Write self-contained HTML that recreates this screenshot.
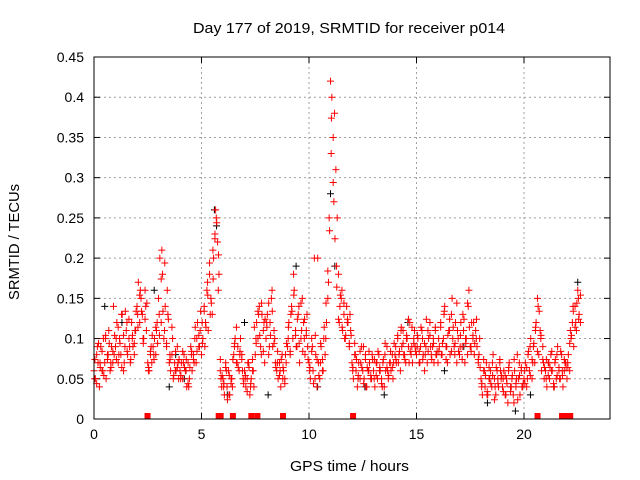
<!DOCTYPE html>
<html><head><meta charset="utf-8"><style>
body{margin:0;background:#fff;}
svg{display:block;font-family:"Liberation Sans",sans-serif;}
</style></head><body>
<svg id="chart" width="640" height="480"></svg>
<script>
const xTicks=[0,5,10,15,20];
const yTicks=[0,0.05,0.1,0.15,0.2,0.25,0.3,0.35,0.4,0.45];
const yTickLabels=["0","0.05","0.1","0.15","0.2","0.25","0.3","0.35","0.4","0.45"];
const redA=[.06,.05,.08,.07,.04,.09,.06,.1,.07,.05,.08,.11,.06,.09,.07,.08,
.09,.12,.07,.1,.08,.13,.06,.09,.11,.08,.1,.07,.12,.09,.08,.11,
.14,.17,.12,.15,.13,.1,.16,.11,.07,.06,.08,.07,.09,.1,.08,.12,
.15,.2,.12,.18,.1,.14,.09,.13,.07,.06,.08,.05,.07,.06,.09,.05,
.06,.07,.05,.08,.06,.04,.07,.05,.09,.06,.08,.1,.07,.12,.09,.11,
.08,.1,.14,.12,.16,.11,.18,.15,.13,.2,.23,.25,.22,.18,.06,.04,
.05,.03,.07,.04,.06,.03,.05,.04,.08,.1,.07,.09,.06,.1,.08,.05,
.06,.04,.05,.07,.03,.05,.06,.04,.08,.12,.1,.14,.09,.13,.11,.07,
.1,.13,.08,.12,.15,.09,.11,.07,.06,.05,.07,.04,.08,.06,.05,.07,
.09,.12,.08,.14,.1,.16,.11,.09,.13,.07,.1,.15,.12,.08,.11,.09,
.07,.05,.1,.06,.2,.08,.04,.07,.05,.09,.06,.1,.08,.12,.15,.25,
.42,.4,.35,.38,.31,.25,.18,.14,.15,.11,.13,.1,.14,.12,.09,.11,
.07,.05,.08,.06,.04,.07,.05,.09,.06,.05,.08,.04,.06,.07,.05,.08,
.06,.04,.07,.05,.08,.06,.05,.07,.04,.06,.09,.05,.07,.06,.08,.07,
.08,.07,.1,.08,.06,.09,.11,.08,.07,.1,.09,.12,.08,.07,.1,.09,
.08,.1,.07,.09,.11,.08,.06,.09,.07,.1,.12,.08,.09,.07,.11,.08,
.07,.09,.12,.08,.1,.14,.09,.07,.11,.08,.13,.1,.09,.12,.07,.1,
.08,.12,.09,.11,.07,.1,.08,.16,.09,.12,.1,.08,.11,.09,.07,.1,
.05,.03,.06,.04,.07,.03,.05,.06,.04,.08,.05,.03,.06,.04,.07,.05,
.04,.06,.03,.05,.02,.07,.04,.05,.03,.06,.04,.08,.05,.03,.06,.04,
.05,.07,.04,.08,.06,.1,.05,.09,.07,.12,.15,.08,.11,.06,.09,.05,
.06,.04,.07,.05,.08,.06,.04,.07,.05,.09,.06,.05,.08,.04,.06,.07,
.05,.08,.06,.1,.12,.09,.14,.11,.16,.13,.12];
const redB=[.05,.09,.07,.06,.1,.08,.07,.14,
.1,.08,.13,.07,.12,.09,.1,.11,
.13,.16,.1,.14,.06,.09,.08,.11,
.13,.21,.11,.16,.08,.1,.06,.07,
.05,.07,.06,.04,.08,.07,.1,.09,
.12,.09,.17,.13,.21,.26,.16,.05,
.04,.06,.03,.05,.09,.07,.08,.06,
.05,.07,.04,.06,.1,.13,.08,.12,
.12,.09,.16,.1,.07,.06,.05,.08,
.1,.13,.18,.09,.14,.11,.1,.13,
.06,.09,.05,.2,.07,.06,.1,.17,
.33,.27,.19,.12,.16,.1,.12,.13,
.06,.08,.05,.07,.09,.04,.06,.05,
.05,.07,.06,.04,.08,.06,.07,.05,
.09,.07,.11,.08,.1,.07,.09,.11,
.09,.07,.1,.08,.11,.09,.1,.08,
.1,.08,.13,.09,.11,.15,.08,.11,
.09,.13,.1,.14,.09,.12,.1,.08,
.04,.06,.03,.05,.07,.04,.05,.06,
.05,.03,.06,.04,.02,.05,.07,.04,
.06,.05,.09,.07,.11,.14,.1,.07,
.05,.07,.06,.04,.08,.05,.06,.07,
.07,.11,.14,.12,.15];
const redC=[.07,.04,.09,.06,.08,.05,.1,.07,.09,.06,.08,.1,
.07,.11,.09,.06,.1,.13,.08,.12,.07,.1,.09,.13,
.11,.15,.13,.09,.12,.14,.06,.08,.1,.07,.11,.09,
.1,.17,.13,.19,.09,.12,.07,.11,.05,.08,.06,.07,
.05,.08,.06,.07,.04,.06,.08,.07,.11,.08,.1,.13,
.09,.13,.11,.15,.19,.14,.17,.22,.24,.2,.07,.05,
.04,.06,.02,.05,.04,.07,.09,.11,.06,.08,.07,.04,
.05,.03,.06,.04,.07,.11,.09,.13,.1,.14,.08,.12,
.11,.14,.1,.13,.09,.06,.08,.05,.07,.06,.04,.09,
.11,.08,.13,.15,.1,.12,.09,.14,.08,.12,.1,.07,
.06,.08,.04,.1,.07,.05,.09,.07,.11,.14,.18,.23,
.37,.29,.22,.16,.12,.15,.11,.14,.1,.12,.09,.1,
.06,.09,.07,.05,.08,.06,.04,.07,.06,.08,.05,.07,
.07,.05,.08,.06,.04,.07,.09,.06,.05,.08,.06,.09,
.07,.1,.08,.11,.09,.07,.1,.12,.08,.11,.09,.08,
.1,.08,.11,.07,.09,.12,.08,.1,.07,.09,.11,.08,
.08,.11,.09,.13,.07,.1,.12,.08,.11,.09,.14,.08,
.1,.07,.12,.09,.14,.11,.08,.1,.09,.12,.07,.06,
.04,.07,.05,.03,.06,.04,.05,.02,.06,.04,.07,.05,
.03,.05,.04,.06,.03,.05,.07,.04,.02,.05,.06,.04,
.04,.06,.08,.05,.07,.09,.11,.08,.13,.1,.07,.06,
.07,.05,.06,.08,.04,.07,.05,.06,.08,.05,.07,.06,
.06,.09,.1,.13,.11,.14,.12,.15];
const blackT=[0.5,1.3,2.8,3.8,4.2,5.6,5.7,7.0,8.1,9.4,10.4,11.0,11.2,12.6,13.5,14.6,16.3,17.2,18.3,19.6,20.3,21.4,22.5,3.5,6.2];
const blackV=[.14,.12,.16,.08,.05,.26,.24,.12,.03,.19,.04,.28,.19,.04,.03,.12,.06,.09,.02,.01,.03,.04,.17,.04,.03];
const zeroT=[2.49,5.8,5.89,6.46,7.32,7.6,8.79,12.05,20.63,21.77,22.0,22.15];

const X0=94,X1=610,Y0=419,Y1=57;
const sx=h=>X0+h/24*(X1-X0);
const sy=v=>Y0-v/0.45*(Y0-Y1);
const svg=document.getElementById('chart');
const NS='http://www.w3.org/2000/svg';
function mk(t,a,p){const e=document.createElementNS(NS,t);for(const k in a)e.setAttribute(k,a[k]);(p||svg).appendChild(e);return e;}

const grid=mk('g',{});


xTicks.forEach(t=>{if(t>0)mk('line',{x1:sx(t),x2:sx(t),y1:Y0,y2:Y1,stroke:'#a0a0a0','stroke-dasharray':'2,3','stroke-width':1},grid);});
yTicks.forEach(t=>{if(t>0)mk('line',{x1:X0,x2:X1,y1:sy(t),y2:sy(t),stroke:'#a0a0a0','stroke-dasharray':'2,3','stroke-width':1},grid);});

const ticks=mk('g',{stroke:'#000','stroke-width':1});


xTicks.forEach(t=>{mk('line',{x1:sx(t),x2:sx(t),y1:Y0,y2:Y0-6},ticks);mk('line',{x1:sx(t),x2:sx(t),y1:Y1,y2:Y1+6},ticks);});
yTicks.forEach(t=>{mk('line',{x1:X0,x2:X0+6,y1:sy(t),y2:sy(t)},ticks);mk('line',{x1:X1,x2:X1-6,y1:sy(t),y2:sy(t)},ticks);});

const xl=mk('g',{'font-size':14,'text-anchor':'middle',fill:'#000'});


xTicks.forEach(t=>{const e=mk('text',{x:sx(t),y:Y0+20},xl);e.textContent=t;});
const yl=mk('g',{'font-size':14,'text-anchor':'end',fill:'#000'});


yTicks.forEach((t,i)=>{const e=mk('text',{x:X0-10,y:sy(t)+5},yl);e.textContent=yTickLabels[i];});

function plus(g,h,v,c){const x=sx(h),y=sy(v);mk('path',{d:`M${x-3.5},${y}h7M${x},${y-3.5}v7`,stroke:c,'stroke-width':1},g);}
const bs=mk('g',{});


blackT.forEach((t,i)=>plus(bs,t,blackV[i],'#000'));
const rs=mk('g',{});


redA.forEach((v,i)=>plus(rs,i/16,v,'#f00'));
redB.forEach((v,i)=>plus(rs,i/8+1/32,v,'#f00'));
redC.forEach((v,i)=>plus(rs,i/12+1/24,v+0.004,'#f00'));
const zs=mk('g',{});


zeroT.forEach(t=>mk('rect',{x:sx(t)-3,y:Y0-6,width:6,height:6,fill:'#f00'},zs));

const fr=mk('rect',{x:X0,y:Y1,width:X1-X0,height:Y0-Y1,fill:'none',stroke:'#000','stroke-width':1});



const ti=mk('text',{x:193,y:33,'font-size':15,textLength:312,lengthAdjust:'spacingAndGlyphs'});
ti.textContent='Day 177 of 2019, SRMTID for receiver p014';


const xt=mk('text',{x:290,y:471,'font-size':15,textLength:119,lengthAdjust:'spacingAndGlyphs'});
xt.textContent='GPS time / hours';


const yt=mk('text',{x:0,y:0,'font-size':15,textLength:116,lengthAdjust:'spacingAndGlyphs',transform:'translate(19,300) rotate(-90)'});
yt.textContent='SRMTID / TECUs';


</script>
</body></html>
